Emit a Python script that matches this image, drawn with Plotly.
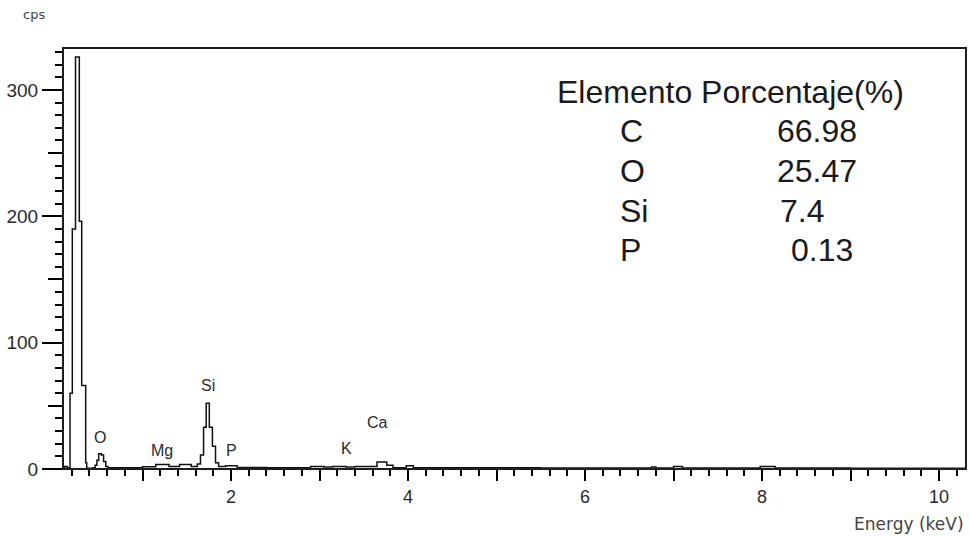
import plotly.graph_objects as go

# ---- spectrum data (step histogram, keV vs cps) ----
energy_kev = [0.10, 0.12, 0.15, 0.181, 0.207, 0.243, 0.286, 0.313, 0.358, 0.37,
              0.44, 0.465, 0.485, 0.505, 0.535, 0.56, 0.585, 0.61, 0.70, 0.85,
              1.00, 1.15, 1.30, 1.42, 1.55, 1.62, 1.655, 1.69, 1.72, 1.755,
              1.79, 1.825, 1.86, 1.94, 2.07, 2.40, 2.90, 3.05, 3.15, 3.30,
              3.40, 3.65, 3.76, 3.83, 3.98, 4.06, 4.60, 5.50, 6.50, 6.75,
              6.80, 7.00, 7.10, 7.60, 7.98, 8.15, 9.00, 10.305]
counts_cps = [0.5, 2, 1, 60, 190, 326, 196, 66, 5, 0.5,
              1, 3, 7, 12, 11, 6, 2, 1, 1, 1,
              1.8, 3.5, 2, 3.5, 2, 4, 11, 33, 52, 33,
              18, 5, 2, 2.5, 1.2, 1, 2, 1.5, 2, 1.5,
              2, 5.5, 3, 1, 2.5, 1, 1, 0.8, 0.8, 1.5,
              0.8, 2, 0.8, 0.8, 2, 0.7, 0.6, 0.6]

# ---- peak labels ----
peak_names = ["O", "Mg", "Si", "P", "K", "Ca"]
peak_kev = [0.52, 1.22, 1.74, 2.00, 3.31, 3.66]
peak_label_cps = [25, 15, 66, 15, 16, 37]

# ---- composition table ----
table_header = "Elemento Porcentaje(%)"
elements = ["C", "O", "Si", "P"]
percentages = ["66.98", "25.47", "7.4", "0.13"]

# ---- axes ----
x_range = [0.1017, 10.305]
y_range = [0, 333.2]
x_major_step = 1
x_hidden_labels = ["1", "3", "5", "7", "9"]
x_minor_step = 0.2
y_major_step = 100
y_minor_step = 10
y_mid_tickvals = [50, 150, 250]

W, H = 970, 537
L, R, T, B = 63, 4, 48, 68
PW, PH = W - L - R, H - T - B


def px(xp):
    return (xp - L) / PW


def py(yp):
    return (H - B - yp) / PH


FONT = "Liberation Sans, Arial, sans-serif"
TXT = "#2a2a2a"
LC = "black"
CLEAR = "rgba(0,0,0,0)"

fig = go.Figure()
fig.add_trace(go.Scatter(x=energy_kev, y=counts_cps, mode="lines",
                         line=dict(color="#111111", width=1.5, shape="hv")))
fig.add_trace(go.Scatter(x=energy_kev, y=counts_cps, yaxis="y2", mode="lines",
                         line=dict(color=CLEAR, width=1)))

annotations = []
for name, xk, yc in zip(peak_names, peak_kev, peak_label_cps):
    annotations.append(dict(x=xk, y=yc, xref="x", yref="y", text=name,
                            showarrow=False, font=dict(family=FONT, size=16, color=TXT),
                            xanchor="center", yanchor="middle"))

TF = dict(family=FONT, size=32, color="#1a1a1a")
annotations.append(dict(x=px(555), y=py(92), xref="paper", yref="paper",
                        text=table_header, showarrow=False, font=TF,
                        xanchor="left", yanchor="middle"))
row_y = [131, 171, 211, 250]
val_right = [859, 859, 826, 855]
for el, pc, ry, vr in zip(elements, percentages, row_y, val_right):
    annotations.append(dict(x=px(618), y=py(ry), xref="paper", yref="paper",
                            text=el, showarrow=False, font=TF,
                            xanchor="left", yanchor="middle"))
    annotations.append(dict(x=px(vr), y=py(ry), xref="paper", yref="paper",
                            text=pc, showarrow=False, font=TF,
                            xanchor="right", yanchor="middle"))

annotations.append(dict(x=px(21), y=py(15), xref="paper", yref="paper", text="cps",
                        showarrow=False, font=dict(family="DejaVu Sans", size=13, color="#444"),
                        xanchor="left", yanchor="middle"))
annotations.append(dict(x=px(966), y=py(524), xref="paper", yref="paper",
                        text="Energy (keV)", showarrow=False,
                        font=dict(family="DejaVu Sans", size=17, color="#444"),
                        xanchor="right", yanchor="middle"))

fig.update_layout(
    width=W, height=H,
    margin=dict(l=L, r=R, t=T, b=B),
    plot_bgcolor="white",
    showlegend=False,
    annotations=annotations,
    shapes=[dict(type="rect", xref="paper", yref="paper", x0=0, y0=0, x1=1, y1=1,
                 line=dict(color="#1e1e1e", width=2), layer="above")],
    xaxis=dict(range=x_range, dtick=x_major_step,
               labelalias={k: " " for k in x_hidden_labels},
               ticks="outside", ticklen=11, tickwidth=2, tickcolor=LC,
               gridcolor=CLEAR, zerolinecolor=CLEAR,
               tickfont=dict(family=FONT, size=18, color=TXT),
               minor=dict(dtick=x_minor_step, ticks="outside", ticklen=6,
                          tickcolor=LC, tickwidth=2)),
    yaxis=dict(range=y_range, dtick=y_major_step,
               ticks="outside", ticklen=20, tickwidth=2, tickcolor=LC,
               gridcolor=CLEAR, zerolinecolor="#1e1e1e",
               tickfont=dict(family=FONT, size=19, color=TXT),
               minor=dict(dtick=y_minor_step, ticks="outside", ticklen=7,
                          tickcolor=LC, tickwidth=2)),
    yaxis2=dict(range=y_range, overlaying="y", side="left", anchor="x",
                tickvals=y_mid_tickvals, gridcolor=CLEAR, zerolinecolor=CLEAR,
                ticks="outside", ticklen=14, tickcolor=LC, tickwidth=2,
                showticklabels=False),
)

fig.write_html("out.html")
